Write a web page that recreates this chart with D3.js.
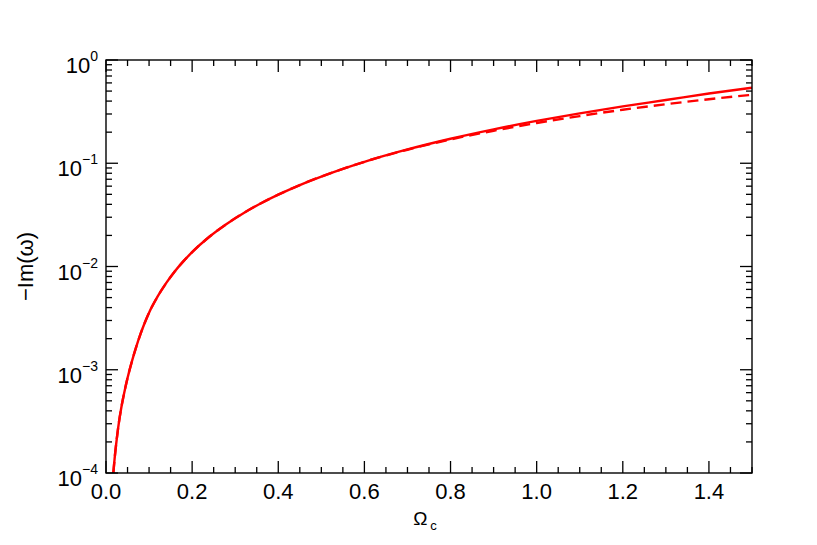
<!DOCTYPE html>
<html>
<head>
<meta charset="utf-8">
<script src="https://cdn.jsdelivr.net/npm/d3@7"></script>
<style>
  body { margin: 0; background: #fff; }
  text { font-family: "Liberation Sans", Arial, Helvetica, sans-serif; fill: #000; }
</style>
</head>
<body>
<div id="chart"></div>
<script>
// curve samples
const omega = [0.017, 0.020, 0.025, 0.030, 0.035, 0.040, 0.050, 0.060, 0.070, 0.080, 0.090, 0.100,
  0.120, 0.140, 0.160, 0.180, 0.200, 0.240, 0.280, 0.320, 0.360, 0.400, 0.450, 0.500, 0.550, 0.600,
  0.700, 0.800, 0.900, 1.000, 1.100, 1.200, 1.300, 1.400, 1.500];
const imSolid = [1.00e-4, 1.38e-4, 2.14e-4, 3.09e-4, 4.17e-4, 5.37e-4, 8.32e-4, 1.20e-3, 1.66e-3, 2.21e-3, 2.85e-3, 3.57e-3,
  5.13e-3, 6.93e-3, 8.99e-3, 1.127e-2, 1.377e-2, 1.941e-2, 2.582e-2, 3.304e-2, 4.102e-2, 4.966e-2, 6.152e-2, 7.43e-2, 8.83e-2, 0.1033,
  0.1361, 0.1728, 0.2131, 0.2570, 0.3045, 0.3553, 0.4093, 0.4732, 0.5395];
const imDashed = [1.00e-4, 1.38e-4, 2.14e-4, 3.09e-4, 4.17e-4, 5.37e-4, 8.32e-4, 1.20e-3, 1.66e-3, 2.21e-3, 2.85e-3, 3.57e-3,
  5.13e-3, 6.93e-3, 8.99e-3, 1.127e-2, 1.377e-2, 1.941e-2, 2.582e-2, 3.304e-2, 4.102e-2, 4.966e-2, 6.152e-2, 7.43e-2, 8.83e-2, 0.1033,
  0.1352, 0.1702, 0.2065, 0.2455, 0.2864, 0.3296, 0.3733, 0.4169, 0.4603];
const xTicks = [0.0, 0.2, 0.4, 0.6, 0.8, 1.0, 1.2, 1.4];
const yExps = [-4, -3, -2, -1, 0];

const W = 817, H = 545;
const m = {left: 106, right: 65, top: 60, bottom: 72};
const pw = W - m.left - m.right, ph = H - m.top - m.bottom;

const svg = d3.select("#chart").append("svg")
  .attr("width", W).attr("height", H);
const g = svg.append("g").attr("transform", `translate(${m.left},${m.top})`);

svg.append("defs").append("clipPath").attr("id", "clip")
  .append("rect").attr("width", pw).attr("height", ph);

const x = d3.scaleLinear().domain([0, 1.5]).range([0, pw]);
const y = d3.scaleLog().domain([1e-4, 1]).range([ph, 0]);

// curves
const line = d3.line()
  .x((d, i) => x(omega[i]))
  .y(d => y(d))
  .curve(d3.curveMonotoneX);

const curves = g.append("g").attr("clip-path", "url(#clip)");

curves.append("path")
  .attr("d", line(imDashed))
  .attr("fill", "none")
  .attr("stroke", "#ff0000")
  .attr("stroke-width", 2.4)
  .attr("stroke-dasharray", "11,6");

curves.append("path")
  .attr("d", line(imSolid))
  .attr("fill", "none")
  .attr("stroke", "#ff0000")
  .attr("stroke-width", 2.4);

// frame
g.append("rect")
  .attr("width", pw).attr("height", ph)
  .attr("fill", "none").attr("stroke", "#000").attr("stroke-width", 1.4);

const major = 12, minor = 6;
const ticks = g.append("g").attr("stroke", "#000").attr("stroke-width", 1.3);

// x ticks, bottom and top
const xMinor = d3.range(0, 31).map(i => i * 0.05).filter(v => Math.round(v * 100) % 20 !== 0);
xTicks.forEach(v => {
  ticks.append("line").attr("x1", x(v)).attr("x2", x(v)).attr("y1", ph).attr("y2", ph - major);
  ticks.append("line").attr("x1", x(v)).attr("x2", x(v)).attr("y1", 0).attr("y2", major);
});
xMinor.forEach(v => {
  ticks.append("line").attr("x1", x(v)).attr("x2", x(v)).attr("y1", ph).attr("y2", ph - minor);
  ticks.append("line").attr("x1", x(v)).attr("x2", x(v)).attr("y1", 0).attr("y2", minor);
});

// y ticks, left and right
yExps.forEach(e => {
  const v = Math.pow(10, e);
  ticks.append("line").attr("x1", 0).attr("x2", major).attr("y1", y(v)).attr("y2", y(v));
  ticks.append("line").attr("x1", pw).attr("x2", pw - major).attr("y1", y(v)).attr("y2", y(v));
  if (e < 0) {
    d3.range(2, 10).forEach(k => {
      const mv = k * v;
      ticks.append("line").attr("x1", 0).attr("x2", minor).attr("y1", y(mv)).attr("y2", y(mv));
      ticks.append("line").attr("x1", pw).attr("x2", pw - minor).attr("y1", y(mv)).attr("y2", y(mv));
    });
  }
});

// tick labels
xTicks.forEach(v => {
  g.append("text")
    .attr("x", x(v)).attr("y", ph + 26)
    .attr("text-anchor", "middle")
    .style("font-size", "22px")
    .text(v.toFixed(1));
});

yExps.forEach(e => {
  const t = g.append("text")
    .attr("x", -8).attr("y", y(Math.pow(10, e)) + 13)
    .attr("text-anchor", "end")
    .style("font-size", "22px");
  t.append("tspan").text("10");
  t.append("tspan").attr("dy", -12).style("font-size", "14px")
    .text(e === 0 ? "0" : "\u2212" + (-e));
});

// axis titles
const xt = svg.append("text")
  .attr("x", m.left + pw / 2 - 4).attr("y", 525)
  .attr("text-anchor", "middle")
  .style("font-size", "19px");
xt.append("tspan").text("\u03A9");
xt.append("tspan").attr("dx", 3).attr("dy", 5).style("font-size", "13px").text("c");

svg.append("text")
  .attr("transform", `translate(33,${m.top + ph / 2}) rotate(-90)`)
  .attr("text-anchor", "middle")
  .style("font-size", "22px")
  .text("\u2212Im(\u03C9)");
</script>
</body>
</html>
